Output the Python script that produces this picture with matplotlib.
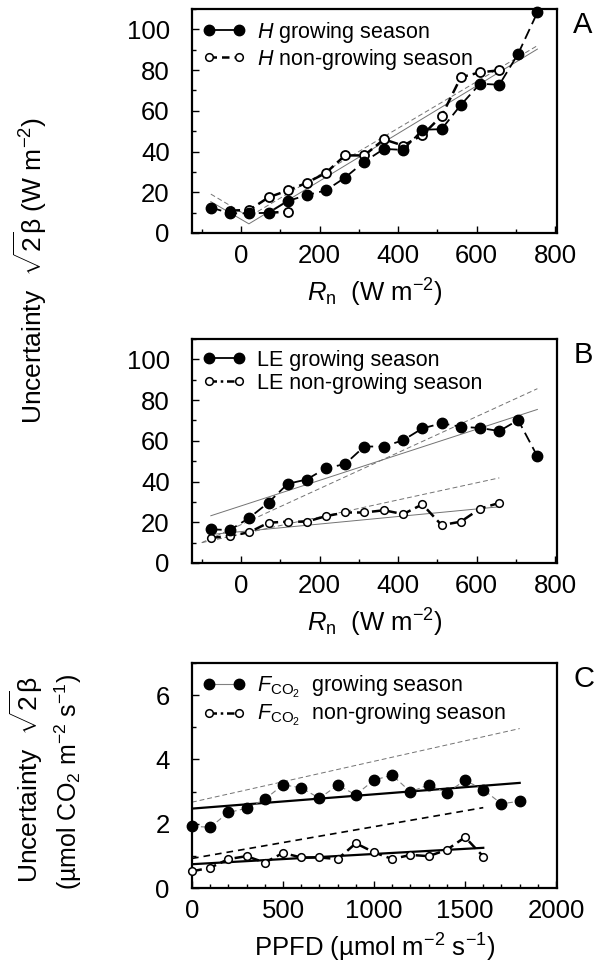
import matplotlib
matplotlib.use("Agg")
import matplotlib.pyplot as plt
from matplotlib.lines import Line2D
from matplotlib.ticker import MultipleLocator

plt.rcParams['font.family'] = ['Liberation Sans', 'DejaVu Sans']
plt.rcParams['mathtext.fontset'] = 'custom'
plt.rcParams['mathtext.rm'] = 'Liberation Sans'
plt.rcParams['mathtext.it'] = 'Liberation Sans:italic'
plt.rcParams['mathtext.bf'] = 'Liberation Sans:bold'

# ---------------- Panel A: H ----------------
rn_bins = [-77, -28, 21, 70, 119, 167, 216, 265, 314, 364, 413, 462, 511, 560, 609, 658, 706, 755]
H_grow = [12.5, 9.7, 9.7, 9.9, 15.7, 18.6, 20.9, 27.2, 35.0, 41.3, 40.8, 50.7, 51.0, 62.9, 73.3, 72.8, 88.0, 108.3]
rn_ng = [-28, 21, 70, 119, 167, 216, 265, 314, 364, 413, 462, 511, 560, 609, 658]
H_nongrow = [11.0, 11.3, 17.5, 20.9, 24.6, 29.5, 38.1, 38.1, 46.0, 42.9, 48.1, 57.5, 76.5, 78.9, 79.9]
H_extra_x = [70, 119]
H_extra_y = [9.9, 10.5]
H_fit_x = [-77, 20, 755]
H_fit_grow = [15.4, 4.5, 90.3]
H_fit_nongrow = [19.1, 8.0, 92.0]

# ---------------- Panel B: LE ----------------
LE_grow = [16.5, 16.2, 22.2, 29.7, 38.9, 41.0, 46.5, 48.6, 57.2, 57.2, 60.3, 66.1, 68.6, 66.9, 66.3, 64.8, 70.2, 52.4]
rn_le_ng = [-77, -28, 21, 70, 119, 167, 216, 265, 314, 364, 413, 462, 511, 560, 609, 658]
LE_nongrow = [12.3, 13.3, 15.1, 19.8, 20.3, 20.3, 23.0, 24.8, 24.8, 25.9, 24.0, 28.8, 18.6, 20.3, 26.7, 29.5]
LE_fitg_solid_x = [-77, 755]
LE_fitg_solid_y = [23.2, 75.4]
LE_fitg_dash_x = [-100, 755]
LE_fitg_dash_y = [10.0, 85.6]
LE_fitn_solid_x = [-77, 658]
LE_fitn_solid_y = [14.0, 27.6]
LE_fitn_dash_x = [-100, 658]
LE_fitn_dash_y = [10.0, 41.8]

# ---------------- Panel C: FCO2 ----------------
ppfd = [0, 100, 200, 300, 400, 500, 600, 700, 800, 900, 1000, 1100, 1200, 1300, 1400, 1500, 1600, 1700, 1800]
F_grow = [1.92, 1.89, 2.35, 2.48, 2.76, 3.21, 3.12, 2.79, 3.20, 2.90, 3.36, 3.51, 2.99, 3.21, 2.96, 3.35, 3.06, 2.62, 2.70]
ppfd_ng = [0, 100, 200, 300, 400, 500, 600, 700, 800, 900, 1000, 1100, 1200, 1300, 1400, 1500, 1600]
F_nongrow = [0.52, 0.63, 0.90, 0.99, 0.79, 1.09, 0.95, 0.95, 0.90, 1.39, 1.11, 0.90, 1.03, 0.99, 1.19, 1.58, 0.98]
F_fitg_x = [0, 1800]
F_fitg_solid = [2.47, 3.27]
F_fitg_dash = [2.67, 4.96]
F_fitn_x = [0, 1600]
F_fitn_solid = [0.74, 1.25]
F_fitn_dash = [0.92, 2.50]

W, H = 596, 965
fig = plt.figure(figsize=(W / 100, H / 100), dpi=100)

def box(l, t, r, b):
    return [l / W, 1 - b / H, (r - l) / W, (b - t) / H]

axA = fig.add_axes(box(192, 9, 557, 233))
axB = fig.add_axes(box(192, 339, 557, 563))
axC = fig.add_axes(box(192, 663, 557, 888))

TICK = 18.5
for ax in (axA, axB, axC):
    for s in ax.spines.values():
        s.set_linewidth(1.6)
    ax.tick_params(direction='in', which='both', top=False, right=False, labelsize=TICK, width=1.0)
    ax.tick_params(which='major', length=5)
    ax.tick_params(which='minor', length=3)
    ax.tick_params(axis='y', pad=16)
    ax.tick_params(axis='x', pad=8)

ms_f = 7.5
ms_o = 6.5

# Panel A
axA.plot(H_fit_x, H_fit_grow, color='0.45', lw=0.7)
axA.plot(H_fit_x, H_fit_nongrow, color='0.45', lw=0.7, ls=(0, (5, 3)))
axA.plot(rn_ng, H_nongrow, color='k', lw=1.8, ls=(0, (4, 2)), marker='o', ms=ms_o,
         mfc='white', mec='k', mew=1.3, zorder=3)
axA.plot(H_extra_x, H_extra_y, color='k', lw=1.8, ls=(0, (4, 2)), marker='o', ms=ms_o,
         mfc='white', mec='k', mew=1.3, markevery=[1], zorder=3)
axA.plot(rn_bins, H_grow, color='k', lw=1.3, ls=(0, (6, 3)), marker='o', ms=ms_f,
         mfc='k', mec='k', zorder=4, clip_on=False)
axA.set_xlim(-125, 805)
axA.set_ylim(0, 110)

# Panel B
axB.plot(LE_fitg_solid_x, LE_fitg_solid_y, color='0.45', lw=0.7)
axB.plot(LE_fitg_dash_x, LE_fitg_dash_y, color='0.45', lw=0.7, ls=(0, (5, 3)))
axB.plot(LE_fitn_solid_x, LE_fitn_solid_y, color='0.45', lw=0.7)
axB.plot(LE_fitn_dash_x, LE_fitn_dash_y, color='0.45', lw=0.7, ls=(0, (5, 3)))
axB.plot(rn_le_ng, LE_nongrow, color='k', lw=1.8, ls=(0, (4, 2)), marker='o', ms=5.5,
         mfc='white', mec='k', mew=1.1, zorder=3)
axB.plot(rn_bins, LE_grow, color='k', lw=1.3, ls=(0, (6, 3)), marker='o', ms=ms_f,
         mfc='k', mec='k', zorder=4)
axB.set_xlim(-125, 805)
axB.set_ylim(0, 110)

for ax in (axA, axB):
    ax.xaxis.set_major_locator(MultipleLocator(200))
    ax.xaxis.set_minor_locator(MultipleLocator(100))
    ax.yaxis.set_major_locator(MultipleLocator(20))
    ax.yaxis.set_minor_locator(MultipleLocator(10))
    ax.set_xlabel(r'$R_{\mathrm{n}}$  (W m$^{-2}$)', fontsize=TICK, labelpad=6)

# Panel C
axC.plot(F_fitg_x, F_fitg_dash, color='0.45', lw=0.7, ls=(0, (5, 3)))
axC.plot(F_fitg_x, F_fitg_solid, color='k', lw=1.6)
axC.plot(F_fitn_x, F_fitn_dash, color='k', lw=1.2, ls=(0, (4, 3)))
axC.plot(F_fitn_x, F_fitn_solid, color='k', lw=1.6)
axC.plot(ppfd, F_grow, color='0.5', lw=0.8, ls=(0, (5, 3)), marker='o', ms=ms_f,
         mfc='k', mec='k', zorder=4, clip_on=False)
axC.plot(ppfd_ng, F_nongrow, color='k', lw=1.8, ls=(0, (4, 2)), marker='o', ms=5.5,
         mfc='white', mec='k', mew=1.1, zorder=3, clip_on=False)
axC.set_xlim(0, 2005)
axC.set_ylim(0, 7.0)
axC.xaxis.set_major_locator(MultipleLocator(500))
axC.xaxis.set_minor_locator(MultipleLocator(100))
axC.yaxis.set_major_locator(MultipleLocator(2))
axC.yaxis.set_minor_locator(MultipleLocator(1))
axC.set_xlabel(r'PPFD (µmol m$^{-2}$ s$^{-1}$)', fontsize=TICK, labelpad=6)

# Legends
LEG = 15.5
def leg(ax, labels, grow_style, ng_style):
    h1 = Line2D([0], [0], marker='o', ms=ms_f, mfc='k', mec='k', **grow_style)
    h2 = Line2D([0], [0], marker='o', ms=5.5, mfc='white', mec='k', mew=1.1, **ng_style)
    ax.legend([h1, h2], labels, loc='upper left', frameon=False, fontsize=LEG,
              numpoints=2, handlelength=2.0, handletextpad=0.5, labelspacing=0.1,
              borderaxespad=0.3, borderpad=0.2)

leg(axA, [r'$H$ growing season', r'$H$ non-growing season'],
    dict(color='k', lw=1.3), dict(color='k', lw=1.8, ls=(0, (3, 2))))
leg(axB, ['LE growing season', 'LE non-growing season'],
    dict(color='k', lw=1.3), dict(color='k', lw=1.8, ls=(0, (3, 1.5, 1, 1.5))))
leg(axC, [r'$F_{\mathrm{CO_2}}$  growing season', r'$F_{\mathrm{CO_2}}$  non-growing season'],
    dict(color='0.5', lw=0.8), dict(color='k', lw=1.8, ls=(0, (3, 1.5, 1, 1.5))))

# Panel letters
for ax, lab in ((axA, 'A'), (axB, 'B'), (axC, 'C')):
    ax.text(1.045, 0.93, lab, transform=ax.transAxes, fontsize=21, ha='left', va='center')

# Y labels
fig.text(30 / W, 1 - 270 / H, r'Uncertainty  $\sqrt{2}\mathrm{\beta}$ (W m$^{-2}$)',
         rotation=90, fontsize=19, ha='center', va='center')
fig.text(26 / W, 1 - 780 / H, r'Uncertainty  $\sqrt{2}\mathrm{\beta}$',
         rotation=90, fontsize=19, ha='center', va='center')
fig.text(68 / W, 1 - 782 / H, r'(µmol CO$_2$ m$^{-2}$ s$^{-1}$)',
         rotation=90, fontsize=18, ha='center', va='center')

fig.savefig('out.png', dpi=100)
